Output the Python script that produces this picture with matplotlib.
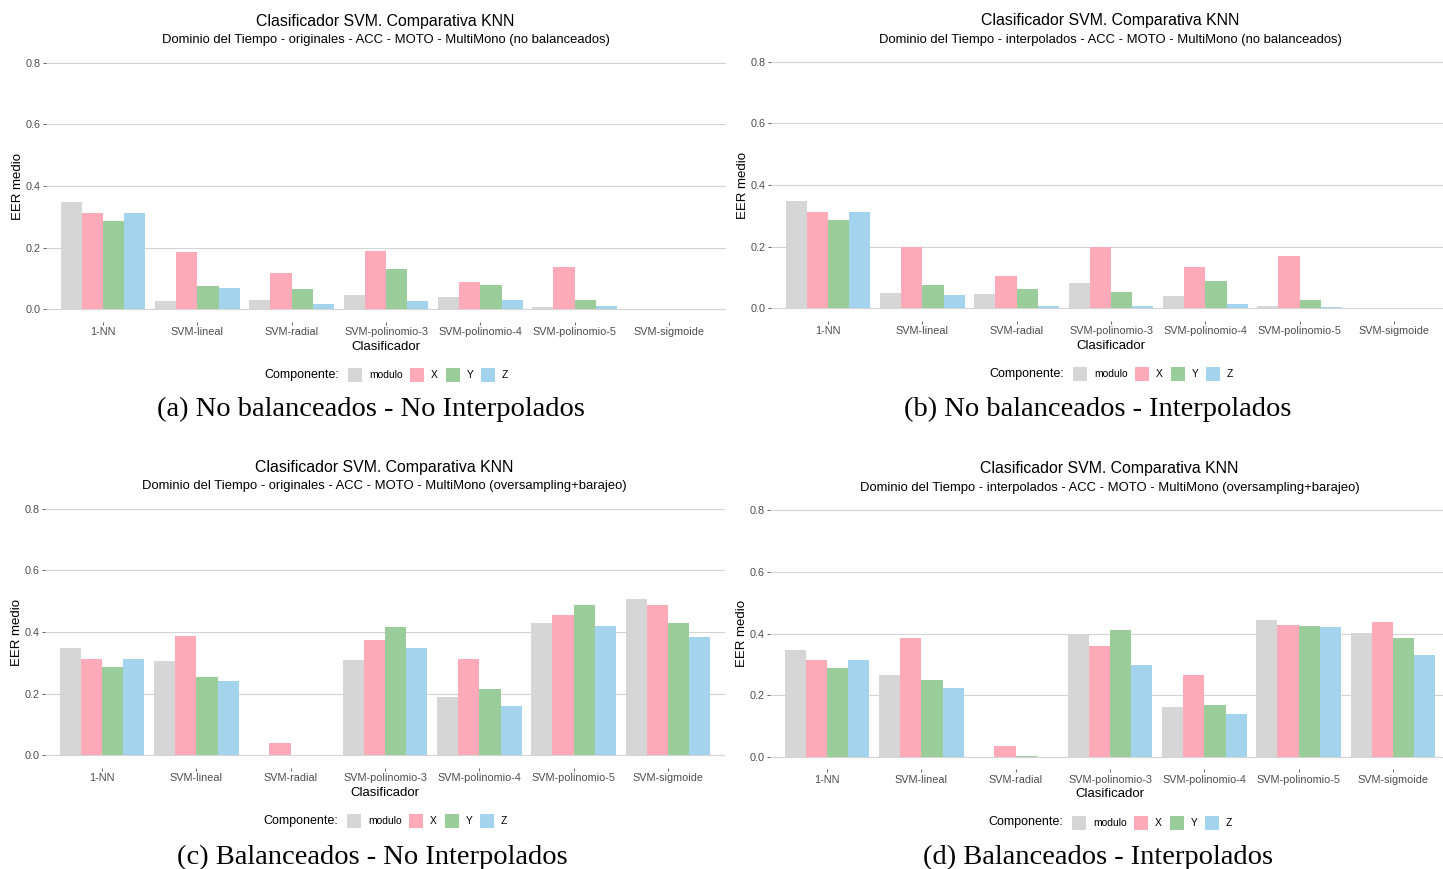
import numpy as np
import matplotlib
matplotlib.use("Agg")
import matplotlib.pyplot as plt
from matplotlib.patches import Rectangle

# ---- data -------------------------------------------------------------
clasificadores = ["1-NN", "SVM-lineal", "SVM-radial", "SVM-polinomio-3",
                  "SVM-polinomio-4", "SVM-polinomio-5", "SVM-sigmoide"]
componentes = ["modulo", "X", "Y", "Z"]
colores = ["#D6D6D6", "#FFAAB8", "#9BCD9B", "#A4D3EE"]

# (a) originales, no balanceados
a_modulo = [0.347, 0.026, 0.030, 0.046, 0.039, 0.008, 0.0]
a_x      = [0.312, 0.186, 0.117, 0.189, 0.090, 0.138, 0.0]
a_y      = [0.286, 0.075, 0.066, 0.130, 0.079, 0.032, 0.0]
a_z      = [0.312, 0.068, 0.017, 0.028, 0.030, 0.011, 0.0]

# (b) interpolados, no balanceados
b_modulo = [0.347, 0.051, 0.046, 0.081, 0.042, 0.008, 0.0]
b_x      = [0.312, 0.199, 0.105, 0.199, 0.133, 0.169, 0.0]
b_y      = [0.286, 0.075, 0.062, 0.053, 0.090, 0.027, 0.0]
b_z      = [0.312, 0.044, 0.008, 0.008, 0.013, 0.004, 0.0]

# (c) originales, oversampling+barajeo
c_modulo = [0.347, 0.307, 0.0, 0.310, 0.191, 0.428, 0.508]
c_x      = [0.314, 0.386, 0.041, 0.375, 0.314, 0.457, 0.488]
c_y      = [0.288, 0.255, 0.003, 0.418, 0.216, 0.488, 0.431]
c_z      = [0.314, 0.240, 0.003, 0.350, 0.161, 0.421, 0.384]

# (d) interpolados, oversampling+barajeo
d_modulo = [0.348, 0.267, 0.0, 0.399, 0.161, 0.444, 0.401]
d_x      = [0.313, 0.385, 0.037, 0.359, 0.265, 0.428, 0.439]
d_y      = [0.287, 0.248, 0.004, 0.411, 0.170, 0.424, 0.387]
d_z      = [0.313, 0.225, 0.0, 0.297, 0.140, 0.420, 0.331]

y_ticks = [0.0, 0.2, 0.4, 0.6, 0.8]
titulo = "Clasificador SVM. Comparativa KNN"
subtitulos = [
    "Dominio del Tiempo - originales - ACC - MOTO - MultiMono (no balanceados)",
    "Dominio del Tiempo - interpolados - ACC - MOTO - MultiMono (no balanceados)",
    "Dominio del Tiempo - originales - ACC - MOTO - MultiMono (oversampling+barajeo)",
    "Dominio del Tiempo - interpolados - ACC - MOTO - MultiMono (oversampling+barajeo)",
]
leyendas = [
    "(a) No balanceados - No Interpolados",
    "(b) No balanceados - Interpolados",
    "(c) Balanceados - No Interpolados",
    "(d) Balanceados - Interpolados",
]

# ---- figure -----------------------------------------------------------
W, H = 1443, 869
fig = plt.figure(figsize=(W / 100, H / 100), dpi=100)
SANS = "Liberation Sans"
SERIF = "Liberation Serif"


def fx(x):
    return x / W


def fy(y):
    return 1 - y / H


def panel(series, subtitulo, leyenda, dx, dy, cap_x, cap_y):
    left, right = 46.4 + dx, 725.6 + dx
    top, bottom = 50.4 + dy, 321.8 + dy
    ax = fig.add_axes([fx(left), fy(bottom), fx(right - left), (bottom - top) / H])
    n = len(clasificadores)
    idx = np.arange(n)
    w = 0.9 / len(series)
    for k, (vals, col) in enumerate(zip(series, colores)):
        ax.bar(idx + (k - 1.5) * w, vals, width=w, color=col,
               edgecolor="none", zorder=2)
    ax.set_xlim(-0.6, n - 0.4)
    ax.set_ylim(-0.04, 0.84)
    ax.set_yticks(y_ticks)
    ax.set_yticklabels([f"{t:.1f}" for t in y_ticks])
    ax.set_xticks(idx)
    ax.set_xticklabels(clasificadores)
    ax.tick_params(axis="both", labelsize=7.8, colors="#4D4D4D",
                   length=2.5, width=0.6, pad=1.5)
    ax.tick_params(axis="x", length=2, pad=1.8)
    for lab in ax.get_xticklabels() + ax.get_yticklabels():
        lab.set_fontfamily(SANS)
    ax.grid(axis="y", color="#D4D4D4", linewidth=0.8, zorder=0)
    ax.grid(axis="x", visible=False)
    for s in ax.spines.values():
        s.set_visible(False)
    ax.set_facecolor("none")
    ax.set_ylabel("EER medio", fontsize=9.5, family=SANS)
    ax.yaxis.set_label_coords((24 + dx - left) / (right - left), 0.5)
    ax.set_xlabel("Clasificador", fontsize=9.5, family=SANS, labelpad=2.5)

    cx = 385.5 + dx
    fig.text(fx(cx), fy(21.5 + dy), titulo, ha="center", va="center",
             fontsize=11.4, family=SANS)
    fig.text(fx(cx), fy(40.5 + dy), subtitulo, ha="center", va="center",
             fontsize=9.4, family=SANS)

    # legend row
    ly = 375 + dy
    fig.text(fx(264 + dx), fy(ly), "Componente:", ha="left", va="center",
             fontsize=9, family=SANS)
    boxes = [348, 410, 446, 481]
    for bx, lab, col in zip(boxes, componentes, colores):
        fig.patches.append(Rectangle((fx(bx + dx), fy(ly + 7)), 14 / W, 14 / H,
                                     transform=fig.transFigure,
                                     facecolor=col, edgecolor="none"))
        fig.text(fx(bx + dx + 21), fy(ly), lab, ha="left", va="center",
                 fontsize=7.4, family=SANS)

    fig.text(fx(cap_x), fy(cap_y), leyenda, ha="center", va="center",
             fontsize=20.5, family=SERIF)


panel([a_modulo, a_x, a_y, a_z], subtitulos[0], leyendas[0], 0, 0, 371, 409)
panel([b_modulo, b_x, b_y, b_z], subtitulos[1], leyendas[1], 725, -1, 1098, 409)
panel([c_modulo, c_x, c_y, c_z], subtitulos[2], leyendas[2], -1, 446, 372, 857)
panel([d_modulo, d_x, d_y, d_z], subtitulos[3], leyendas[3], 724, 447.5, 1098, 857)

fig.savefig("out.png", dpi=100)
